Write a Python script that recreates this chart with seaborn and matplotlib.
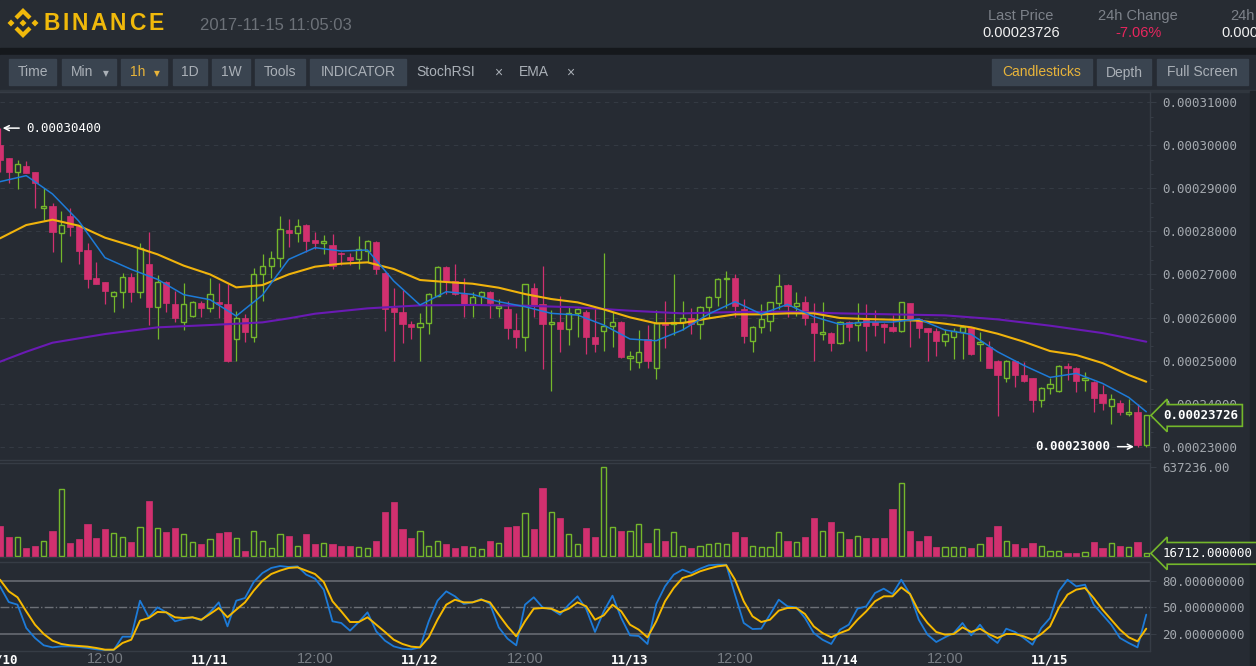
import numpy as np
import pandas as pd
import matplotlib
matplotlib.use("Agg")
import matplotlib.pyplot as plt
import matplotlib.transforms as mtransforms
from matplotlib.patches import Rectangle, Polygon
from matplotlib.ticker import FixedLocator, AutoMinorLocator, FuncFormatter
import seaborn as sns

# hourly candles, 11/10 00:00 -> 11/15 11:00, prices in 1e-8 units
open_sat = [
    30010, 29700, 29390, 29520, 29375, 28535, 28590, 27955, 28360, 28125,
    27570, 26910, 26815, 26510, 26600, 26935, 26600, 27245, 26250, 26835,
    26315, 25905, 26035, 26330, 26230, 26355, 26315, 25495, 25995, 25555,
    27005, 27205, 27375, 28035, 27970, 28150, 27800, 27725, 27685, 27505,
    27400, 27350, 27555, 27760, 27040, 26230, 26135, 25855, 25785, 25865,
    26510, 27180, 26855, 26545, 26305, 26510, 26600, 26215, 26205, 25700,
    25555, 26695, 26315, 25855, 25905, 25725, 26095, 26135, 25555, 25695,
    25810, 25905, 25065, 24975, 25500, 24820, 25865, 25840, 25905, 25995,
    25840, 26250, 26485, 26885, 26910, 26200, 25455, 25770, 25925, 26330,
    26755, 26275, 26355, 25880, 25610, 25650, 25400, 25905, 25825, 25995,
    25905, 25855, 25785, 25685, 26330, 25960, 25750, 25685, 25460, 25555,
    25670, 25765, 25375, 25320, 25000, 24585, 25000, 24665, 24585, 24085,
    24355, 24300, 24880, 24835, 24550, 24510, 24215, 23945, 24020, 23750,
    23810, 23050]
close_sat = [
    29660, 29390, 29560, 29365, 29120, 28590, 27995, 28150, 28110, 27555,
    26885, 26785, 26615, 26600, 26935, 26600, 27605, 26250, 26835, 26330,
    25980, 26315, 26370, 26215, 26540, 26305, 24990, 25995, 25670, 27010,
    27205, 27390, 28055, 27955, 28135, 27785, 27740, 27785, 27195, 27475,
    27335, 27590, 27785, 27120, 26190, 26120, 25840, 25780, 25880, 26545,
    27180, 26855, 26540, 26290, 26470, 26600, 26330, 26275, 25750, 25545,
    26770, 26290, 25840, 25905, 25725, 26115, 26190, 25555, 25375, 25810,
    25905, 25075, 25100, 25205, 24990, 25865, 25825, 25905, 25995, 25840,
    26250, 26485, 26895, 26925, 26275, 25580, 25785, 25965, 26355, 26740,
    26275, 26345, 25995, 25630, 25670, 25415, 25905, 25770, 25905, 25810,
    25825, 25785, 25685, 26355, 25940, 25750, 25670, 25460, 25625, 25685,
    25770, 25145, 25425, 24835, 24665, 25000, 24665, 24530, 24085, 24370,
    24445, 24880, 24820, 24530, 24600, 24120, 24005, 24105, 23795, 23810,
    23040, 23726]
high_sat = [
    30400, 29710, 29660, 29645, 29390, 29000, 28655, 28480, 28535, 28150,
    27725, 27295, 26835, 26615, 27025, 27040, 27725, 27995, 26990, 26850,
    26615, 26795, 26385, 26385, 26925, 26795, 26770, 26150, 26075, 27145,
    27485, 27545, 28365, 28290, 28290, 28165, 27995, 27915, 27935, 27530,
    27490, 27900, 27800, 27780, 27065, 26680, 26640, 25925, 26095, 26560,
    27195, 27195, 27235, 26910, 26585, 26615, 26615, 26430, 26390, 26095,
    26785, 26795, 27205, 26175, 26500, 26275, 26215, 26175, 26190, 27490,
    26135, 25920, 25230, 25710, 25825, 26175, 26385, 27005, 26390, 26215,
    26265, 26500, 26910, 27090, 27005, 26430, 25805, 26305, 26370, 27005,
    26770, 26585, 26510, 26330, 26370, 25665, 25920, 25920, 26330, 26305,
    26175, 25880, 26060, 26370, 26345, 25980, 25765, 25765, 25735, 25750,
    25825, 25780, 25670, 25455, 25015, 25015, 25015, 24975, 24600, 24385,
    24600, 24895, 24935, 24860, 24740, 24525, 24430, 24215, 24085, 24105,
    23985, 23735]
low_sat = [
    29390, 29120, 28990, 29350, 28550, 28265, 27515, 27300, 27900, 27235,
    26680, 26770, 26305, 26135, 26230, 26370, 26445, 25825, 25495, 26135,
    25905, 25710, 26020, 26020, 26135, 25995, 24975, 24990, 25440, 25440,
    26385, 26910, 27180, 27645, 27760, 27515, 27590, 27470, 27120, 27220,
    27220, 27125, 27295, 27010, 25695, 25000, 25400, 25495, 25000, 25615,
    26490, 26545, 26525, 26020, 26020, 26305, 25995, 26020, 25500, 25300,
    25230, 26020, 24795, 24300, 25205, 25360, 25555, 25145, 25205, 25230,
    25305, 25060, 24780, 24820, 24820, 24565, 25285, 25595, 25710, 25610,
    25495, 26020, 26275, 26215, 26020, 25400, 25190, 25630, 25695, 26190,
    26020, 26045, 25825, 24990, 25475, 25220, 25385, 25460, 25460, 25230,
    25580, 25400, 25670, 25670, 25305, 25515, 24990, 25115, 25345, 25030,
    25030, 25130, 25000, 24820, 23720, 24495, 24380, 24495, 23795, 23915,
    24215, 24275, 24550, 24275, 24300, 23810, 23850, 23520, 23735, 23720,
    23000, 23000]
volume = [
    214800, 136100, 136100, 52500, 69200, 107400, 179000, 475000, 88300, 117000,
    224400, 124100, 188600, 162300, 133700, 97900, 207700, 393900, 198100, 171900,
    198100, 152800, 97900, 81200, 117000, 162300, 171900, 126500, 35800, 179000,
    107400, 52500, 152800, 143200, 71600, 152800, 81200, 90700, 81200, 71600,
    71600, 62100, 52500, 107400, 312700, 386700, 188600, 126500, 179000, 71600,
    107400, 81200, 52500, 71600, 62100, 45400, 107400, 90700, 207700, 214800,
    305500, 188600, 484600, 315100, 269700, 152800, 81200, 198100, 133700, 637236,
    207700, 179000, 179000, 226800, 90700, 188600, 107400, 171900, 69200, 52500,
    69200, 81200, 88300, 81200, 171900, 133700, 69200, 62100, 62100, 171900,
    107400, 100300, 133700, 269700, 179000, 243500, 171900, 117000, 143200, 126500,
    126500, 126500, 331800, 522800, 179000, 107400, 143200, 62100, 62100, 62100,
    62100, 52500, 81200, 133700, 214800, 107400, 81200, 52500, 90700, 71600,
    35800, 35800, 16700, 16700, 26300, 97900, 52500, 90700, 71600, 62100,
    97900, 16712]

# EMA lines
ema_hours = list(range(0, 130, 3)) + [131]
ema7_sat = [
    29156, 29296, 28870, 28242, 27390, 27119, 26887, 26531, 26415, 26035,
    26523, 27352, 27623, 27545, 27569, 26848, 26291, 26600, 26538, 26368,
    26252, 26097, 26058, 25826, 25501, 25462, 25710, 26082, 26368, 26082,
    26306, 26020, 25841, 25896, 25896, 25965, 25710, 25609, 25206, 24889,
    24610, 24703, 24471, 24145, 23812]
ema25_sat = [
    27840, 28149, 28273, 28134, 27855, 27669, 27468, 27205, 27003, 26701,
    26755, 27003, 27181, 27251, 27282, 27127, 26872, 26825, 26786, 26693,
    26546, 26430, 26353, 26190, 26004, 25865, 25872, 25981, 26074, 26074,
    26097, 26097, 25989, 25965, 25950, 25927, 25857, 25772, 25625, 25439,
    25222, 25129, 24943, 24664, 24509]
ema99_hours = [0, 3, 6, 12, 18, 24, 30, 33, 36, 42, 48, 54, 60, 66, 72, 78,
               84, 90, 96, 102, 108, 114, 120, 126, 131]
ema99_sat = [
    24974, 25206, 25415, 25617, 25772, 25826, 25888, 25981, 26089, 26213,
    26283, 26291, 26275, 26236, 26159, 26097, 26128, 26136, 26097, 26074,
    26051, 25958, 25811, 25640, 25439]

stoch_k = [
    73.6, 56.0, 53.0, 26.8, 15.5, 7.3, 5.0, 6.1, 6.1, 5.4,
    4.3, 2.8, 2.0, 2.0, 17.0, 17.0, 57.5, 38.8, 50.0, 44.4,
    34.3, 36.9, 38.8, 35.4, 44.4, 55.6, 28.6, 57.5, 60.5, 78.5,
    88.6, 94.3, 96.5, 95.4, 96.1, 86.8, 82.3, 69.9, 34.3, 32.4,
    23.8, 33.5, 44.4, 23.0, 12.5, 6.1, 3.5, 2.8, 5.0, 34.3,
    57.5, 68.0, 62.4, 53.8, 55.6, 59.4, 53.8, 27.5, 14.8, 7.3,
    53.0, 61.3, 50.0, 48.1, 41.8, 53.0, 62.4, 48.1, 22.3, 45.5,
    63.1, 38.0, 18.5, 17.8, 8.8, 53.8, 73.6, 86.8, 92.4, 88.6,
    93.5, 97.3, 98.0, 98.0, 64.3, 32.4, 25.6, 26.0, 41.8, 58.6,
    51.1, 50.0, 38.0, 21.1, 13.6, 8.8, 24.9, 30.5, 48.5, 51.1,
    66.1, 71.0, 65.0, 81.1, 65.0, 36.1, 19.3, 11.0, 16.3, 21.1,
    32.4, 18.5, 30.5, 17.4, 9.9, 26.0, 22.3, 15.5, 8.0, 26.8,
    38.0, 68.0, 81.1, 73.6, 75.5, 53.0, 41.8, 30.5, 15.5, 9.9,
    5.0, 41.8]
stoch_d = [
    81.1, 68.0, 61.3, 45.5, 30.5, 20.0, 12.5, 8.8, 7.3, 6.5,
    5.8, 4.3, 2.4, 2.4, 9.9, 13.6, 35.0, 38.0, 44.8, 44.4,
    38.8, 38.0, 38.8, 36.1, 42.5, 49.3, 38.8, 47.4, 55.6, 68.8,
    80.0, 87.5, 91.3, 94.3, 95.0, 91.3, 87.5, 78.5, 56.8, 45.5,
    33.5, 33.5, 38.8, 30.5, 22.3, 13.6, 8.8, 5.8, 5.0, 16.3,
    36.1, 53.0, 58.6, 55.6, 55.6, 58.6, 55.6, 41.8, 28.6, 17.4,
    34.3, 48.5, 49.3, 48.5, 44.4, 48.5, 55.6, 51.1, 36.1, 41.0,
    53.0, 45.5, 30.5, 24.9, 16.3, 34.3, 56.8, 71.8, 83.0, 86.0,
    90.5, 93.5, 96.1, 97.3, 81.1, 56.8, 39.9, 33.5, 36.1, 46.3,
    49.3, 49.3, 42.5, 28.6, 21.1, 16.3, 21.1, 24.9, 36.1, 45.5,
    56.8, 62.4, 62.4, 72.5, 65.0, 45.5, 32.4, 22.3, 19.3, 20.0,
    27.5, 22.3, 26.0, 20.0, 15.5, 20.0, 20.0, 17.4, 13.6, 20.0,
    28.6, 49.3, 64.3, 69.9, 71.8, 60.5, 47.4, 36.1, 24.9, 16.3,
    11.8, 26.0]

day_labels = ['11/10', '11/11', '11/12', '11/13', '11/14', '11/15']
toolbar_left = ['Time', 'Min', '1h', '1D', '1W', 'Tools', 'INDICATOR']
toolbar_right = ['Candlesticks', 'Depth', 'Full Screen']

# colours
BG = '#262b33'
HEAD = '#272c33'
PINK = '#d1306f'
GREEN = '#74b72b'
BLUE = '#1d7bd8'
YELLOW = '#f0b30c'
PURPLE = '#6a1ab4'
LABEL = '#a4a9af'
SPINE = '#363c45'
BTN = '#3a4450'
BTN_TXT = '#aab0b7'
GOLD = '#e8b43a'

sns.set_theme(style='dark')
plt.rcParams['font.family'] = ['Liberation Sans', 'DejaVu Sans']
MONO = 'DejaVu Sans Mono'

df = pd.DataFrame({'open': open_sat, 'close': close_sat,
                   'high': high_sat, 'low': low_sat}) * 1e-8
df['volume'] = volume
df['hour'] = np.arange(len(df))
up = (df['close'] >= df['open']).values

W, H = 1256, 666
fig = plt.figure(figsize=(W / 100, H / 100), dpi=100, facecolor=BG)


def rect(x0, y0, x1, y1):
    return [x0 / W, 1 - y1 / H, (x1 - x0) / W, (y1 - y0) / H]


# ---------- page background, header, toolbar ----------
bg = fig.add_axes([0, 0, 1, 1], zorder=0)
bg.set_xlim(0, W)
bg.set_ylim(H, 0)
bg.axis('off')
bg.add_patch(Rectangle((0, 0), W, 48, color=HEAD))
bg.add_patch(Rectangle((0, 48), W, 7, color='#15181c'))
bg.add_patch(Rectangle((0, 55), W, 36, color=BG))
bg.add_patch(Rectangle((0, 90), W, 1.5, color='#30363e'))
bg.add_patch(Rectangle((1250, 91), 6, H - 91, color='#1f2328'))

# binance logo
logo = [
    [(23, 19.5), (26.5, 23), (23, 26.5), (19.5, 23)],
    [(11, 19.5), (14.5, 23), (11, 26.5), (7.5, 23)],
    [(35, 19.5), (38.5, 23), (35, 26.5), (31.5, 23)],
    [(23, 8), (31.5, 16.5), (28.5, 19.5), (23, 14), (17.5, 19.5), (14.5, 16.5)],
    [(23, 38), (31.5, 29.5), (28.5, 26.5), (23, 32), (17.5, 26.5), (14.5, 29.5)],
]
for pts in logo:
    bg.add_patch(Polygon(pts, closed=True, color='#f0b90b', lw=0))
for ch, cx in zip('BINANCE', [51.3, 65.4, 79.5, 98.7, 117.9, 137.1, 155.7]):
    bg.text(cx, 23.5, ch, color='#f0b90b', fontsize=16.5, fontweight='bold',
            ha='center', va='center')
bg.text(200, 26, '2017-11-15 11:05:03', color='#6c7178', fontsize=12,
        ha='left', va='center')

bg.text(1021, 16, 'Last Price', color='#7d828a', fontsize=10.5, ha='center', va='center')
bg.text(1021, 33, '0.00023726', color='#f2f2f2', fontsize=10.5, ha='center', va='center')
bg.text(1138, 16, '24h Change', color='#7d828a', fontsize=10.5, ha='center', va='center')
bg.text(1139, 33, '-7.06%', color='#e8265e', fontsize=10.5, ha='center', va='center')
bg.text(1230, 16, '24h', color='#7d828a', fontsize=10.5, ha='left', va='center')
bg.text(1221, 33, '0.000', color='#f2f2f2', fontsize=10.5, ha='left', va='center')

# toolbar buttons
btn_left = [(9, 56), (62, 116), (121, 167), (173, 207), (212, 250), (255, 305), (310, 406)]
for name, (x0, x1) in zip(toolbar_left, btn_left):
    bg.add_patch(Rectangle((x0, 59), x1 - x0, 26, color=BTN))
    col = GOLD if name == '1h' else BTN_TXT
    if name in ('Min', '1h'):
        bg.text(x0 + 9, 72.5, name, color=col, fontsize=10, ha='left', va='center')
        bg.text(x1 - 10, 73.5, '▼', color=col, fontsize=5.5, ha='center', va='center',
                family=['DejaVu Sans'])
    else:
        bg.text((x0 + x1) / 2, 72.5, name, color=col, fontsize=10, ha='center', va='center')
bg.text(416, 72.5, 'StochRSI', color=BTN_TXT, fontsize=10, ha='left', va='center')
bg.text(498, 72.5, '×', color=BTN_TXT, fontsize=10, ha='center', va='center')
bg.text(519, 72.5, 'EMA', color=BTN_TXT, fontsize=10, ha='left', va='center')
bg.text(570, 72.5, '×', color=BTN_TXT, fontsize=10, ha='center', va='center')
btn_right = [(992, 1092), (1097, 1151), (1157, 1248)]
for name, (x0, x1) in zip(toolbar_right, btn_right):
    bg.add_patch(Rectangle((x0, 59), x1 - x0, 26, color=BTN))
    col = GOLD if name == 'Candlesticks' else BTN_TXT
    bg.text((x0 + x1) / 2, 72.5, name, color=col, fontsize=10, ha='center', va='center')

# ---------- panels ----------
XMAX = 1150 / 8.75
ax = fig.add_axes(rect(0, 92, 1150, 460), zorder=2)
axv = fig.add_axes(rect(0, 463, 1150, 557), zorder=2)
axs = fig.add_axes(rect(0, 562, 1150, 651), zorder=2)

for a in (ax, axv, axs):
    a.set_facecolor(BG)
    a.set_xlim(0, XMAX)
    a.spines['left'].set_visible(False)
    for side in ('top', 'bottom', 'right'):
        a.spines[side].set_color(SPINE)
        a.spines[side].set_linewidth(1)
    a.yaxis.tick_right()
    a.tick_params(axis='y', colors=LABEL, labelsize=9, length=4, width=0.8,
                  pad=5, direction='out')
    a.tick_params(axis='y', which='both', color=SPINE)
    a.grid(False)

price_fmt = FuncFormatter(lambda v, p: f'{v:.8f}')

# candles
hrs = df['hour'].values
o, c, hi, lo = df['open'].values, df['close'].values, df['high'].values, df['low'].values
body_lo = np.minimum(o, c)
body_hi = np.maximum(o, c)
body_h = np.maximum(body_hi - body_lo, 22e-8)
dn = ~up
ax.vlines(hrs[dn], lo[dn], hi[dn], color=PINK, lw=0.9, zorder=3)
ax.bar(hrs[dn], body_h[dn], bottom=body_lo[dn], width=0.7, color=PINK,
       edgecolor=PINK, lw=0.5, zorder=4)
ax.vlines(hrs[up], body_hi[up], hi[up], color=GREEN, lw=0.9, zorder=3)
ax.vlines(hrs[up], lo[up], body_lo[up], color=GREEN, lw=0.9, zorder=3)
ax.bar(hrs[up], body_h[up], bottom=body_lo[up], width=0.62, facecolor=BG,
       edgecolor=GREEN, lw=1.0, zorder=4)

# EMA lines
sns.lineplot(x=ema99_hours, y=np.array(ema99_sat) * 1e-8, ax=ax, color=PURPLE, lw=1.5, zorder=5)
sns.lineplot(x=ema_hours, y=np.array(ema25_sat) * 1e-8, ax=ax, color=YELLOW, lw=1.5, zorder=6)
sns.lineplot(x=ema_hours, y=np.array(ema7_sat) * 1e-8, ax=ax, color=BLUE, lw=1.1, zorder=7)

ax.set_ylim(22691e-8, 31239e-8)
ax.set_xlim(0, XMAX)
ax.yaxis.set_major_locator(FixedLocator(np.arange(23000, 31001, 1000) * 1e-8))
ax.yaxis.set_minor_locator(AutoMinorLocator(3))
ax.tick_params(axis='y', which='minor', length=2, width=0.8)
ax.yaxis.set_major_formatter(price_fmt)
ax.yaxis.grid(True, which='major', color='#343a43', ls=(0, (4, 4)), lw=0.8)
ax.set_axisbelow(True)
ax.set_xticks([])
ax.set_xlabel('')
ax.set_ylabel('')

# extremes markers
imax = int(np.argmax(hi))
ax.annotate(f'{hi[imax]:.8f}', xy=(hrs[imax] + 0.3, hi[imax]), xytext=(24, 0),
            textcoords='offset pixels', ha='left', va='center', color='white',
            fontsize=9, family=MONO, annotation_clip=False, zorder=9,
            arrowprops=dict(arrowstyle='->', color='white', lw=1.1,
                            shrinkA=3, shrinkB=0))
imin = int(np.argmin(lo))
ax.annotate(f'{lo[imin]:.8f}', xy=(hrs[imin] - 0.4, lo[imin]), xytext=(-24, 0),
            textcoords='offset pixels', ha='right', va='center', color='white',
            fontsize=9, family=MONO, fontweight='bold', annotation_clip=False, zorder=9,
            arrowprops=dict(arrowstyle='->', color='white', lw=1.1,
                            shrinkA=3, shrinkB=0))

# last price tag
tr = mtransforms.offset_copy(mtransforms.blended_transform_factory(ax.transAxes, ax.transData),
                             fig=fig, x=13, y=0, units='dots')
ax.text(1.0, c[-1], f'{c[-1]:.8f}', transform=tr, ha='left', va='center',
        color='white', fontsize=9, family=MONO, fontweight='bold', clip_on=False, zorder=10,
        bbox=dict(boxstyle='larrow,pad=0.35', fc=BG, ec=GREEN, lw=1.2))

# volume
vol = df['volume'].values
axv.bar(hrs[dn], vol[dn], width=0.7, color=PINK, edgecolor=PINK, lw=0.5, zorder=3)
axv.bar(hrs[up], vol[up], width=0.62, facecolor=BG, edgecolor=GREEN, lw=1.0, zorder=3)
axv.set_ylim(-9300, 663700)
axv.set_xlim(0, XMAX)
axv.yaxis.set_major_locator(FixedLocator([vol.max()]))
axv.yaxis.set_major_formatter(FuncFormatter(lambda v, p: f'{v:.2f}'))
axv.set_xticks([])
trv = mtransforms.offset_copy(mtransforms.blended_transform_factory(axv.transAxes, axv.transData),
                              fig=fig, x=13, y=0, units='dots')
axv.text(1.0, vol[-1], f'{vol[-1]:.6f}', transform=trv, ha='left', va='center',
         color='white', fontsize=9, family=MONO, clip_on=False, zorder=10,
         bbox=dict(boxstyle='larrow,pad=0.35', fc=BG, ec=GREEN, lw=1.2))

# stoch rsi
axs.axhline(80, color='#6c7077', lw=1.1, zorder=2)
axs.axhline(20, color='#6c7077', lw=1.1, zorder=2)
axs.axhline(50, color='#6c7077', lw=1.0, ls='-.', zorder=2)
sns.lineplot(x=hrs, y=stoch_k, ax=axs, color=BLUE, lw=1.3, zorder=4)
sns.lineplot(x=hrs, y=stoch_d, ax=axs, color='#f6b900', lw=1.4, zorder=5)
axs.set_ylim(0.9, 101)
axs.set_xlim(0, XMAX)
axs.yaxis.set_major_locator(FixedLocator([20, 50, 80]))
axs.yaxis.set_major_formatter(price_fmt)
axs.set_ylabel('')
xt = list(range(0, 121, 12))
axs.set_xticks(xt)
axs.set_xticklabels([day_labels[t // 24] if t % 24 == 0 else '12:00' for t in xt])
axs.tick_params(axis='x', length=0, pad=0.5, labelsize=9.5)
shift = mtransforms.ScaledTranslation(0, -2 / 100, fig.dpi_scale_trans)
for lab, t in zip(axs.get_xticklabels(), xt):
    if t % 24 == 0:
        lab.set_color('white')
        lab.set_fontweight('bold')
        lab.set_fontfamily(MONO)
        lab.set_fontsize(9)
        lab.set_transform(lab.get_transform() + shift)
    else:
        lab.set_color('#777c83')
        lab.set_fontsize(10.5)

for a in (ax, axv, axs):
    for lab in a.get_yticklabels():
        lab.set_fontfamily(MONO)

fig.savefig('out.png', dpi=100, facecolor=BG)
